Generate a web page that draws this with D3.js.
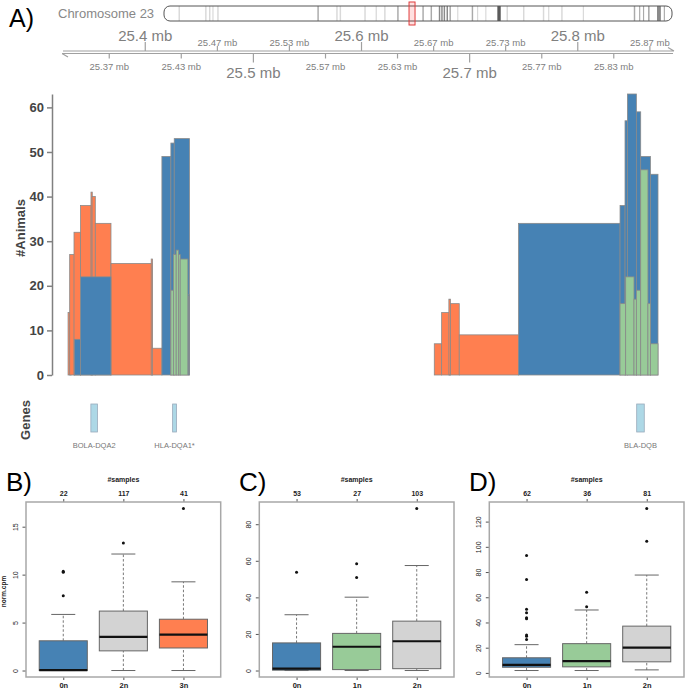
<!DOCTYPE html>
<html>
<head>
<meta charset="utf-8">
<script src="https://cdn.jsdelivr.net/npm/d3@7"></script>
<style>
  body { margin: 0; background: #fff; }
  svg { display: block; font-family: "Liberation Sans", Arial, sans-serif; }
</style>
</head>
<body>
<svg width="685" height="691"></svg>
<script>
// ---------- data ----------
// ideogram of chromosome 23 (Mb)
const chromLength = 52.5;
const bandStart = [1.5, 4.25, 4.65, 5.0, 5.5, 15.85, 17.8, 18.15, 20.7, 21.87, 22.75, 24.1, 26.7, 27.55, 28.4, 28.65, 28.9, 29.2, 29.5, 30.3, 31.8, 32.35, 33.2, 34.45, 35.4, 37.1, 39.15, 39.7, 41.05, 43.28, 48.55, 49.1, 49.5, 50.05, 50.95, 51.65];
const bandEnd   = [1.65, 4.4, 4.8, 5.12, 5.65, 16.0, 17.95, 18.3, 20.85, 22.0, 22.9, 24.25, 26.85, 27.7, 28.55, 28.8, 29.05, 29.35, 29.65, 30.42, 31.95, 32.47, 33.32, 34.8, 35.55, 37.25, 39.3, 39.82, 41.2, 43.4, 48.7, 49.22, 49.62, 50.17, 51.35, 51.77];
const bandStain = ["gpos25","gpos25","gpos25","gpos25","gpos25","gpos50","gpos25","gpos25","gpos25","gpos25","gpos25","gpos50","gpos50","gpos50","gpos75","gpos75","gpos75","gpos75","gpos50","gpos25","gpos50","gpos25","gpos25","gpos100","gpos25","gpos25","gpos25","gpos25","gpos25","gpos25","gpos50","gpos50","gpos50","gpos75","gpos75","gpos50"];

// plotted region (Mb)
const regionStart = 25.323, regionEnd = 25.889;

// genome axis ticks
const axisTicks  = [25.3667, 25.4, 25.4333, 25.4667, 25.5, 25.5333, 25.5667, 25.6, 25.6333, 25.6667, 25.7, 25.7333, 25.7667, 25.8, 25.8333, 25.8667];
const axisLabels = ["25.37 mb", "25.4 mb", "25.43 mb", "25.47 mb", "25.5 mb", "25.53 mb", "25.57 mb", "25.6 mb", "25.63 mb", "25.67 mb", "25.7 mb", "25.73 mb", "25.77 mb", "25.8 mb", "25.83 mb", "25.87 mb"];

// CNV regions: start, end (Mb), #animals, copy-number state (drawn in this order)
const cnvStart   = [25.3286, 25.3301, 25.3341, 25.3402, 25.3498, 25.3508, 25.3538, 25.3683, 25.4055, 25.4065,
                    25.6673, 25.6741, 25.6818, 25.6808, 25.6904,
                    25.3344, 25.3402, 25.4154, 25.4237, 25.4268, 25.4400,
                    25.7452, 25.8391, 25.8437, 25.8459, 25.8542, 25.8582, 25.8672,
                    25.4237, 25.4261, 25.4286, 25.4307, 25.4323,
                    25.8391, 25.8443, 25.8520, 25.8542, 25.8582, 25.8649, 25.8672];
const cnvEnd     = [25.3314, 25.3344, 25.3402, 25.3508, 25.3510, 25.3538, 25.3683, 25.4062, 25.4067, 25.4154,
                    25.6741, 25.6818, 25.6904, 25.6822, 25.7452,
                    25.3402, 25.3683, 25.4237, 25.4268, 25.4409, 25.4409,
                    25.8391, 25.8437, 25.8459, 25.8542, 25.8582, 25.8672, 25.8742,
                    25.4261, 25.4286, 25.4307, 25.4323, 25.4394,
                    25.8443, 25.8520, 25.8542, 25.8582, 25.8649, 25.8672, 25.8742];
const cnvAnimals = [14, 27, 32, 38, 41, 40, 34, 25, 26, 6,
                    7, 14, 16, 17, 9,
                    8, 22, 49, 52, 53, 18,
                    34, 38, 57, 63, 59, 49, 45,
                    19, 27, 28, 27, 26,
                    16, 22, 17, 19, 46, 16, 7];
const cnvState   = ["3n","3n","3n","3n","3n","3n","3n","3n","3n","3n",
                    "3n","3n","3n","3n","3n",
                    "0n","0n","0n","0n","0n","0n",
                    "0n","0n","0n","0n","0n","0n","0n",
                    "1n","1n","1n","1n","1n",
                    "1n","1n","1n","1n","1n","1n","1n"];

// genes
const geneName  = ["BOLA-DQA2", "HLA-DQA1*", "BLA-DQB"];
const geneStart = [25.3497, 25.4253, 25.8545];
const geneEnd   = [25.3558, 25.4289, 25.8615];

// boxplots: [lower whisker, Q1, median, Q3, upper whisker]
const bGroups = ["0n", "2n", "3n"];
const bSamples = [22, 117, 41];
const bStats = [[0, 0, 0.05, 3.1, 5.85], [0, 2.05, 3.5, 6.2, 12.15], [0, 2.35, 3.75, 5.35, 9.25]];
const bOutliers = [[7.8, 10.25, 10.35], [13.3], [16.9]];

const cGroups = ["0n", "1n", "2n"];
const cSamples = [53, 27, 103];
const cStats = [[0, 0.2, 1, 15.1, 30.5], [0, 0.5, 13, 20.3, 40.1], [0, 1, 16, 27, 57.4]];
const cOutliers = [[53.8], [50.8, 58.4], [88.6]];

const dGroups = ["0n", "1n", "2n"];
const dSamples = [62, 36, 81];
const dStats = [[1.9, 4.5, 6.3, 12, 22.4], [1.9, 4.8, 9.4, 23.2, 49.9], [2.4, 8.8, 20, 37.1, 77.6]];
const dOutliers = [[26.4, 29.1, 30.1, 42.9, 43.8, 47.7, 50.4, 74.1, 93.1], [52.5, 64], [104.5, 130.4]];

// ---------- styles ----------
const stateColor = {"0n": "#4682B4", "1n": "#98CB98", "2n": "#D3D3D3", "3n": "#FF7F50"};
const stainColor = {"gpos25": "#d9d9d9", "gpos33": "#cccccc", "gpos50": "#aaaaaa", "gpos75": "#8a8a8a", "gpos100": "#5a5a5a"};

const svg = d3.select("svg");
svg.append("rect").attr("width", 685).attr("height", 691).attr("fill", "#fff");

// ---------- A) ideogram ----------
svg.append("text").attr("x", 9).attr("y", 27).attr("font-size", 25).text("A)");
svg.append("text").attr("x", 58).attr("y", 18).attr("font-size", 13).attr("fill", "#888").text("Chromosome 23");

const xChr = d3.scaleLinear().domain([0, chromLength]).range([164, 672]);
const chrTop = 6, chrH = 15;
svg.append("defs").append("clipPath").attr("id", "chrclip")
  .append("rect").attr("x", xChr(0)).attr("y", chrTop).attr("width", xChr(chromLength) - xChr(0))
  .attr("height", chrH).attr("rx", 6);
svg.append("rect").attr("x", xChr(0)).attr("y", chrTop).attr("width", xChr(chromLength) - xChr(0))
  .attr("height", chrH).attr("rx", 6).attr("fill", "#fff");
svg.append("g").attr("clip-path", "url(#chrclip)")
  .selectAll("rect").data(bandStart).enter().append("rect")
  .attr("x", (d, i) => xChr(d))
  .attr("width", (d, i) => Math.max(xChr(bandEnd[i]) - xChr(d), 1))
  .attr("y", chrTop).attr("height", chrH)
  .attr("fill", (d, i) => stainColor[bandStain[i]]);
svg.append("rect").attr("x", xChr(0)).attr("y", chrTop).attr("width", xChr(chromLength) - xChr(0))
  .attr("height", chrH).attr("rx", 6).attr("fill", "none").attr("stroke", "#555").attr("stroke-width", 1);
// highlighted region
const rx0 = xChr(regionStart), rx1 = Math.max(xChr(regionEnd), rx0 + 6);
svg.append("rect").attr("x", rx0).attr("y", 2).attr("width", rx1 - rx0).attr("height", 23)
  .attr("fill", "rgba(255,0,0,0.12)").attr("stroke", "#e03c3c").attr("stroke-width", 1);

// ---------- genome axis ----------
const xG = d3.scaleLinear().domain([regionStart, regionEnd]).range([62, 674]);
const axG = svg.append("g").attr("stroke", "#a0a0a0").attr("fill", "none").attr("stroke-width", 1.2);
axG.append("path").attr("d", `M${xG(regionStart) + 1},51 L${xG(regionEnd)},51 M${xG(regionEnd)},51 L${xG(regionEnd) - 6},47.5`);
axG.append("path").attr("d", `M${xG(regionStart)},53.5 L${xG(regionEnd) - 1},53.5 M${xG(regionStart)},53.5 L${xG(regionStart) + 6},57`);

axisTicks.forEach((v, i) => {
  const big = Math.abs(v * 10 - Math.round(v * 10)) < 1e-3;
  const above = i % 2 === 1;
  const len = big ? 9 : 5;
  const x = xG(v);
  svg.append("line").attr("x1", x).attr("x2", x)
    .attr("y1", above ? 51 : 53.5).attr("y2", above ? 51 - len : 53.5 + len)
    .attr("stroke", "#a0a0a0").attr("stroke-width", 1.2);
  svg.append("text").attr("x", x).attr("text-anchor", "middle")
    .attr("y", above ? (big ? 41 : 46) : (big ? 78 : 69.5))
    .attr("font-size", big ? 15 : 9.5).attr("fill", "#808080")
    .text(axisLabels[i]);
});

// ---------- CNV data track ----------
const yA = d3.scaleLinear().domain([0, d3.max(cnvAnimals)]).range([375, 94]);

svg.append("g").selectAll("rect").data(cnvStart).enter().append("rect")
  .attr("x", (d, i) => xG(d))
  .attr("width", (d, i) => Math.max(xG(cnvEnd[i]) - xG(d), 1))
  .attr("y", (d, i) => yA(cnvAnimals[i]))
  .attr("height", (d, i) => yA(0) - yA(cnvAnimals[i]))
  .attr("fill", (d, i) => stateColor[cnvState[i]])
  .attr("stroke", "#8a8a8a").attr("stroke-width", 0.8);

const yAxisA = svg.append("g").attr("transform", "translate(52,0)")
  .call(d3.axisLeft(yA).tickValues([0, 10, 20, 30, 40, 50, 60]).tickSize(5).tickSizeOuter(0).tickPadding(3));
yAxisA.select(".domain").attr("stroke", "#808080").attr("stroke-width", 1.5);
yAxisA.selectAll(".tick line").attr("stroke", "#808080").attr("stroke-width", 1.5);
yAxisA.selectAll("text").attr("font-size", 13).attr("font-weight", "bold").attr("fill", "#444")
  .attr("font-family", "Liberation Sans, Arial, sans-serif");

svg.append("text").attr("transform", "translate(20,228) rotate(-90)")
  .attr("text-anchor", "middle").attr("dominant-baseline", "central")
  .attr("font-size", 13).attr("font-weight", "bold").attr("fill", "#444").text("#Animals");

// ---------- gene track ----------
svg.append("text").attr("transform", "translate(25,420) rotate(-90)")
  .attr("text-anchor", "middle").attr("dominant-baseline", "central")
  .attr("font-size", 13).attr("font-weight", "bold").attr("fill", "#444").text("Genes");

svg.append("g").selectAll("rect").data(geneStart).enter().append("rect")
  .attr("x", (d, i) => xG(d))
  .attr("width", (d, i) => xG(geneEnd[i]) - xG(d))
  .attr("y", 404).attr("height", 28)
  .attr("fill", "#ADD8E6").attr("stroke", "#9ab").attr("stroke-width", 0.8);
svg.append("g").selectAll("text").data(geneStart).enter().append("text")
  .attr("x", (d, i) => (xG(d) + xG(geneEnd[i])) / 2)
  .attr("y", 448).attr("text-anchor", "middle")
  .attr("font-size", 7.5).attr("fill", "#777")
  .attr("font-family", "Liberation Sans Narrow, Arial Narrow, sans-serif")
  .text((d, i) => geneName[i]);

// ---------- B), C), D) boxplots ----------
const panels = [
  {tag: "B)", tagX: 6, x0: 26, x1: 220.7, groups: bGroups, samples: bSamples, stats: bStats, outliers: bOutliers, ylab: "norm.cpm"},
  {tag: "C)", tagX: 239, x0: 259.3, x1: 454, groups: cGroups, samples: cSamples, stats: cStats, outliers: cOutliers},
  {tag: "D)", tagX: 469, x0: 489.3, x1: 684, groups: dGroups, samples: dSamples, stats: dStats, outliers: dOutliers}
];
const boxTop = 502, boxBottom = 677;

panels.forEach(p => {
  const g = svg.append("g");
  const all = p.stats.flat().concat(p.outliers.flat());
  const lo = d3.min(all), hi = d3.max(all), pad = (hi - lo) * 0.04;
  const y = d3.scaleLinear().domain([lo - pad, hi + pad]).range([boxBottom, boxTop]);
  const x = d3.scaleLinear().domain([0.38, 3.62]).range([p.x0, p.x1]);

  g.append("text").attr("x", p.tagX).attr("y", 491).attr("font-size", 26).text(p.tag);

  // y axis (rotated labels)
  const ya = g.append("g").attr("transform", `translate(${p.x0},0)`)
    .call(d3.axisLeft(y).ticks(5).tickSize(3.5));
  ya.select(".domain").remove();
  ya.selectAll(".tick line").attr("stroke", "#555");
  ya.selectAll("text").attr("text-anchor", "middle").attr("x", null).attr("dy", null)
    .attr("transform", "translate(-8.5,0) rotate(-90)")
    .attr("font-size", 7).attr("fill", "#222").attr("font-family", "Liberation Sans, Arial, sans-serif");

  // top axis: sample counts
  const ta = g.append("g").attr("transform", `translate(0,${boxTop})`)
    .call(d3.axisTop(x).tickValues([1, 2, 3]).tickFormat((d, i) => p.samples[i]).tickSize(3).tickPadding(3));
  ta.select(".domain").remove();
  ta.selectAll(".tick line").attr("stroke", "#555");
  ta.selectAll("text").attr("font-size", 7).attr("font-weight", "bold").attr("fill", "#222")
    .attr("font-family", "Liberation Sans, Arial, sans-serif");
  g.append("text").attr("x", x(2)).attr("y", 482).attr("text-anchor", "middle")
    .attr("font-size", 7).attr("font-weight", "bold").attr("fill", "#222").text("#samples");

  // bottom axis: groups
  const ba = g.append("g").attr("transform", `translate(0,${boxBottom})`)
    .call(d3.axisBottom(x).tickValues([1, 2, 3]).tickFormat((d, i) => p.groups[i]).tickSize(3).tickPadding(3));
  ba.select(".domain").remove();
  ba.selectAll(".tick line").attr("stroke", "#555");
  ba.selectAll("text").attr("font-size", 7.5).attr("font-weight", "bold").attr("fill", "#222")
    .attr("font-family", "Liberation Sans, Arial, sans-serif");

  if (p.ylab) {
    g.append("text").attr("transform", `translate(3,${(boxTop + boxBottom) / 2 + 2}) rotate(-90)`)
      .attr("text-anchor", "middle").attr("dominant-baseline", "central")
      .attr("font-size", 6.5).attr("font-weight", "bold").attr("fill", "#222").text(p.ylab);
  }

  p.stats.forEach((s, i) => {
    const cx = i + 1;
    // whiskers
    g.append("line").attr("x1", x(cx)).attr("x2", x(cx)).attr("y1", y(s[0])).attr("y2", y(s[1]))
      .attr("stroke", "#555").attr("stroke-dasharray", "2.5,2").attr("stroke-width", 0.8);
    g.append("line").attr("x1", x(cx)).attr("x2", x(cx)).attr("y1", y(s[3])).attr("y2", y(s[4]))
      .attr("stroke", "#555").attr("stroke-dasharray", "2.5,2").attr("stroke-width", 0.8);
    [s[0], s[4]].forEach(v => {
      g.append("line").attr("x1", x(cx - 0.2)).attr("x2", x(cx + 0.2)).attr("y1", y(v)).attr("y2", y(v))
        .attr("stroke", "#666").attr("stroke-width", 1);
    });
    // box
    g.append("rect").attr("x", x(cx - 0.4)).attr("width", x(cx + 0.4) - x(cx - 0.4))
      .attr("y", y(s[3])).attr("height", y(s[1]) - y(s[3]))
      .attr("fill", stateColor[p.groups[i]]).attr("stroke", "#666").attr("stroke-width", 1);
    // median
    g.append("line").attr("x1", x(cx - 0.4)).attr("x2", x(cx + 0.4)).attr("y1", y(s[2])).attr("y2", y(s[2]))
      .attr("stroke", "#111").attr("stroke-width", 2.2);
    // outliers
    g.selectAll(null).data(p.outliers[i]).enter().append("circle")
      .attr("cx", x(cx)).attr("cy", d => y(d)).attr("r", 1.5).attr("fill", "#111");
  });

  // frame
  g.append("rect").attr("x", p.x0).attr("y", boxTop).attr("width", p.x1 - p.x0).attr("height", boxBottom - boxTop)
    .attr("fill", "none").attr("stroke", "#a8a8a8").attr("stroke-width", 1.5);
});
</script>
</body>
</html>
